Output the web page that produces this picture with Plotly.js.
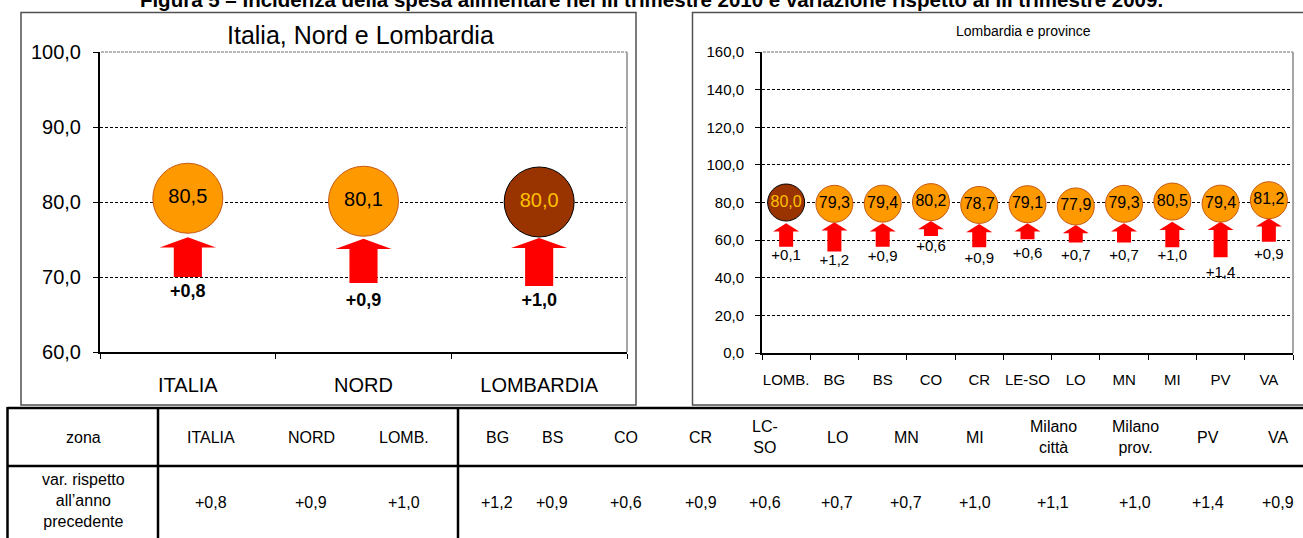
<!DOCTYPE html>
<html><head><meta charset="utf-8">
<script src="https://cdn.plot.ly/plotly-3.0.1.min.js"></script>
<style>html,body{margin:0;padding:0;background:#fff}#chart{width:1303px;height:538px}</style>
</head><body><div id="chart"></div>
<script>
// ---------------- DATA ----------------
const figTitle = 'Figura 5 \u2013 Incidenza della spesa alimentare nel III trimestre 2010 e variazione rispetto al III trimestre 2009.';

const leftTitle = 'Italia, Nord e Lombardia';
const leftCats = ['ITALIA', 'NORD', 'LOMBARDIA'];
const leftValues = [80.5, 80.1, 80.0];
const leftVarLabels = ['+0,8', '+0,9', '+1,0'];
const leftArrowTop = [75.3, 75.1, 75.2];
const leftArrowBase = [70.0, 69.2, 68.8];
const leftLabelY = [68.0, 66.7, 66.7];
const leftHighlight = 'LOMBARDIA';

const rightTitle = 'Lombardia e province';
const rightCats = ['LOMB.', 'BG', 'BS', 'CO', 'CR', 'LE-SO', 'LO', 'MN', 'MI', 'PV', 'VA'];
const rightValues = [80.0, 79.3, 79.4, 80.2, 78.7, 79.1, 77.9, 79.3, 80.5, 79.4, 81.2];
const rightVarLabels = ['+0,1', '+1,2', '+0,9', '+0,6', '+0,9', '+0,6', '+0,7', '+0,7', '+1,0', '+1,4', '+0,9'];
const rightArrowTop = [69.0, 69.5, 69.0, 70.2, 68.6, 69.0, 68.1, 69.0, 69.8, 69.8, 71.6];
const rightArrowBase = [56.5, 53.9, 56.5, 62.2, 56.2, 60.5, 58.7, 58.7, 56.2, 50.9, 59.2];
const rightLabelY = [51.2, 48.9, 50.7, 56.2, 49.8, 52.7, 51.2, 51.2, 51.2, 42.4, 52.1];
const rightHighlight = 'LOMB.';

const tableRowHeader = 'zona';
const tableRowLabel = 'var. rispetto<br>all\u2019anno<br>precedente';
const tableZones = ['ITALIA', 'NORD', 'LOMB.', 'BG', 'BS', 'CO', 'CR', 'LC-<br>SO', 'LO', 'MN', 'MI', 'Milano<br>citt\u00e0', 'Milano<br>prov.', 'PV', 'VA'];
const tableVar = ['+0,8', '+0,9', '+1,0', '+1,2', '+0,9', '+0,6', '+0,9', '+0,6', '+0,7', '+0,7', '+1,0', '+1,1', '+1,0', '+1,4', '+0,9'];

// ---------------- LAYOUT HELPERS ----------------
const W = 1303, H = 538;
const px = x => x / W;
const py = y => 1 - y / H;
const FONT = 'Liberation Sans, Arial, sans-serif';
const fmt = v => v.toFixed(1).replace('.', ',');

function arrowTrace(n, tops, bases, hw, sw, hh, xa, ya) {
  const xs = [], ys = [];
  for (let i = 0; i < n; i++) {
    const t = tops[i], b = bases[i];
    xs.push(i - sw / 2, i - sw / 2, i - hw / 2, i, i + hw / 2, i + sw / 2, i + sw / 2, i - sw / 2, null);
    ys.push(b, t - hh, t - hh, t, t - hh, t - hh, b, b, null);
  }
  return {type: 'scatter', mode: 'lines', x: xs, y: ys, fill: 'toself', fillcolor: '#FF0000',
    line: {width: 0, color: '#FF0000'}, xaxis: xa, yaxis: ya, hoverinfo: 'skip', showlegend: false};
}

function circleTrace(cats, vals, hi, size, fsize, xa, ya) {
  return {type: 'scatter', mode: 'markers+text', x: cats.map((c, i) => i), y: vals,
    text: vals.map(fmt), textposition: 'middle center',
    textfont: {family: FONT, size: fsize, color: cats.map(c => c === hi ? '#FFC000' : '#000000')},
    marker: {size: size, color: cats.map(c => c === hi ? '#993300' : '#FF9900'),
      line: {width: 1, color: cats.map(c => c === hi ? '#000000' : '#C65911')}, opacity: 1},
    xaxis: xa, yaxis: ya, hoverinfo: 'skip', showlegend: false, cliponaxis: false};
}

function labelTrace(cats, ys, labels, fsize, bold, xa, ya) {
  return {type: 'scatter', mode: 'text', x: cats.map((c, i) => i), y: ys, text: labels,
    textposition: 'middle center',
    textfont: {family: FONT, size: fsize, color: '#000', weight: bold ? 'bold' : 'normal'},
    xaxis: xa, yaxis: ya, hoverinfo: 'skip', showlegend: false, cliponaxis: false};
}

const data = [
  arrowTrace(leftCats.length, leftArrowTop, leftArrowBase, 0.32, 0.16, 1.35, 'x', 'y'),
  circleTrace(leftCats, leftValues, leftHighlight, 70, 20, 'x', 'y'),
  labelTrace(leftCats, leftLabelY, leftVarLabels, 18, true, 'x', 'y'),
  arrowTrace(rightCats.length, rightArrowTop, rightArrowBase, 0.54, 0.29, 4.4, 'x2', 'y2'),
  circleTrace(rightCats, rightValues, rightHighlight, 37, 16, 'x2', 'y2'),
  labelTrace(rightCats, rightLabelY, rightVarLabels, 15, false, 'x2', 'y2')
];

function xAxis(dom, cats, fsize, standoff, anchor) {
  const n = cats.length;
  const minorVals = [];
  for (let i = 0; i <= n; i++) minorVals.push(i - 0.5);
  return {domain: dom, range: [-0.5, n - 0.5], tickmode: 'array', tickvals: cats.map((c, i) => i),
    ticktext: cats, ticks: '', showline: true, linecolor: '#000', linewidth: 2, showgrid: false,
    zeroline: false, tickfont: {family: FONT, size: fsize, color: '#000'}, ticklabelstandoff: standoff,
    minor: {tickmode: 'array', tickvals: minorVals, ticks: 'outside', ticklen: 5, tickcolor: '#000', tickwidth: 1, showgrid: false},
    anchor: anchor, fixedrange: true};
}
function yAxis(dom, range, dtick, fsize, standoff, anchor) {
  return {domain: dom, range: range, dtick: dtick, tick0: 0, tickformat: '.1f', ticks: 'outside', ticklen: 5,
    tickcolor: '#000', tickwidth: 1, showline: true, linecolor: '#000', linewidth: 2, showgrid: true,
    gridcolor: '#000', gridwidth: 1, griddash: '3px,2px', zeroline: false,
    tickfont: {family: FONT, size: fsize, color: '#000'}, ticklabelstandoff: standoff, anchor: anchor, fixedrange: true};
}

const L = {x0: 100, x1: 627, y0: 52, y1: 352};
const R = {x0: 762, x1: 1293, y0: 52, y1: 353};

const shapes = [];
function line(x0, y0, x1, y1, color, width, dash, layer) {
  shapes.push({type: 'line', xref: 'paper', yref: 'paper', x0: px(x0), y0: py(y0), x1: px(x1), y1: py(y1),
    line: {color: color, width: width, dash: dash || 'solid'}, layer: layer || 'above'});
}
function rect(x0, y0, x1, y1, color, width) {
  shapes.push({type: 'rect', xref: 'paper', yref: 'paper', x0: px(x0), y0: py(y0), x1: px(x1), y1: py(y1),
    line: {color: color, width: width}, fillcolor: 'rgba(0,0,0,0)', layer: 'below'});
}
// chart boxes
rect(21, 12.5, 636, 405, '#505050', 1.5);
rect(692.5, 12.5, 1306, 405, '#505050', 1.5);
// plot-area borders (top dashed grey + right solid grey)
[L, R].forEach(p => {
  line(p.x0 + 1, p.y0, p.x1, p.y0, '#FFFFFF', 2, 'solid', 'above');
  line(p.x0 + 1, p.y0, p.x1, p.y0, '#A0A0A0', 1.5, '3px,1px', 'above');
  line(p.x1, p.y0, p.x1, p.y1, '#A6A6A6', 2, 'solid', 'above');
});
// table lines
line(7.5, 408, 1303, 408, '#000', 2.5);
line(7.5, 466, 1303, 466, '#000', 2.5);
line(7.5, 407, 7.5, 540, '#000', 2.5);
line(158, 407, 158, 540, '#000', 2.5);
line(458, 407, 458, 540, '#000', 2.5);

const annotations = [];
function ann(text, x, y, size) {
  annotations.push({text: text, xref: 'paper', yref: 'paper', x: px(x), y: py(y),
    xanchor: 'center', yanchor: 'middle', showarrow: false,
    font: {family: FONT, size: size, color: '#000'}});
}
ann(leftTitle, (L.x0 + L.x1) / 2 - 3, 35, 25);
ann(rightTitle, (R.x0 + R.x1) / 2 - 4, 31, 14);

// table text
const colX = [211, 311, 404, 497, 552, 626, 701, 765, 837, 906, 975, 1053, 1135, 1208, 1278];
ann(tableRowHeader, 83, 437, 16);
ann(tableRowLabel, 83, 501, 16);
tableZones.forEach((z, i) => ann(z, colX[i], 437, 16));
tableVar.forEach((v, i) => ann(v, colX[i], 502, 16));

const layout = {
  width: W, height: H, margin: {l: 0, r: 0, t: 0, b: 0, pad: 0},
  paper_bgcolor: '#fff', plot_bgcolor: 'rgba(0,0,0,0)', showlegend: false, hovermode: false,
  separators: ',.',
  font: {family: FONT, color: '#000'},
  title: {text: figTitle, x: 0.5, xanchor: 'center', xref: 'container', y: 1, yref: 'container', yanchor: 'middle',
    font: {family: FONT, size: 20.5, color: '#000', weight: 'bold'}},
  xaxis: xAxis([px(L.x0), px(L.x1)], leftCats, 20, 14, 'y'),
  yaxis: yAxis([py(L.y1), py(L.y0)], [60, 100], 10, 20, 8, 'x'),
  xaxis2: xAxis([px(R.x0), px(R.x1)], rightCats, 15, 12, 'y2'),
  yaxis2: yAxis([py(R.y1), py(R.y0)], [0, 160], 20, 15, 8, 'x2'),
  shapes: shapes,
  annotations: annotations
};

Plotly.newPlot('chart', data, layout, {staticPlot: true, displayModeBar: false});
</script></body></html>
